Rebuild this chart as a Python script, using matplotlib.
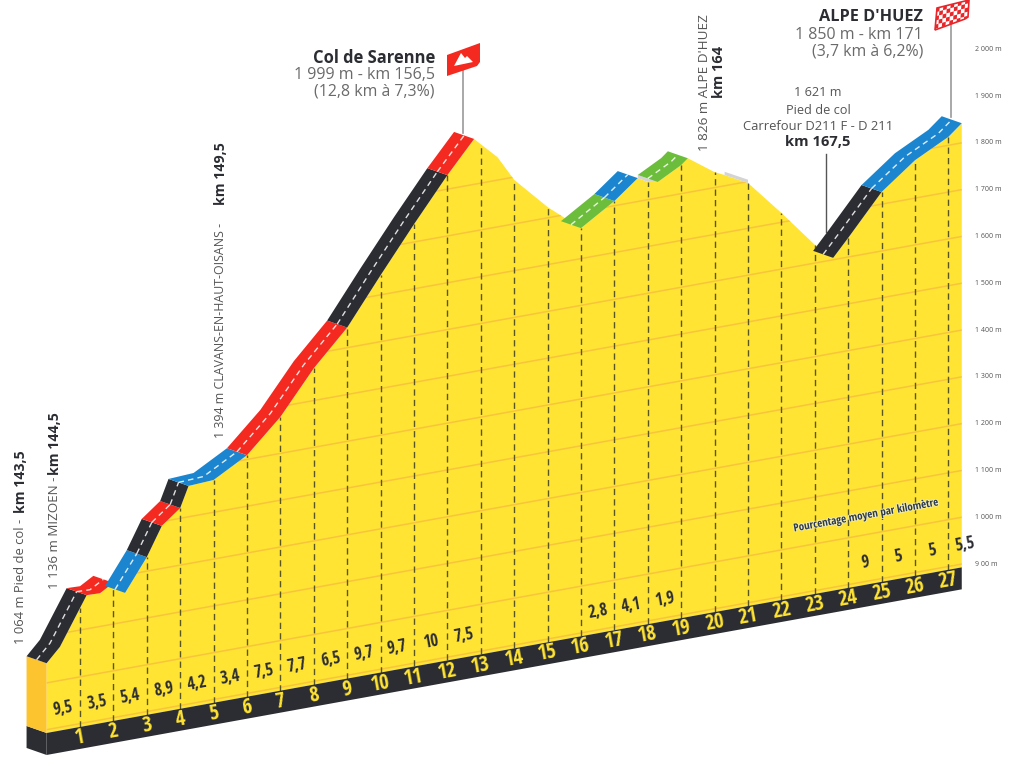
import numpy as np
import matplotlib
matplotlib.use("Agg")
import matplotlib.pyplot as plt
from matplotlib.patches import Polygon
from matplotlib.transforms import Affine2D
import matplotlib.patheffects as pe
import logging
logging.getLogger("matplotlib.font_manager").setLevel(logging.ERROR)

# profile: km, altitude of the front edge of the road
km = np.array([0, 0.4, 1, 1.2, 1.6, 2, 2.35, 3, 3.45, 4, 4.25, 5, 6, 7, 8, 9, 10, 11, 12, 12.8,
               13, 13.5, 14, 15, 15.6, 16, 17, 17.7, 18, 18.3, 19, 19.2, 20, 20.3, 21, 22, 23,
               23.55, 24, 25, 26, 27, 27.4])
alt = np.array([1042, 1072, 1147, 1172, 1171, 1188, 1162, 1230, 1291, 1322, 1366, 1369, 1409,
                1478, 1569, 1643, 1742, 1838, 1930, 1997,
                1983, 1949, 1894, 1823, 1788, 1765, 1810, 1850, 1838, 1834, 1861, 1873, 1833,
                1823, 1797, 1720, 1639, 1604, 1641, 1726, 1781, 1818, 1842])

# road sections: start km, end km, colour name
seg_start = [0, 1.2, 2.35, 3, 3.45, 4, 4.25, 6, 9, 12, 16, 17, 18.3, 23.55, 25]
seg_end = [1.2, 2, 3, 3.45, 4, 4.25, 6, 9, 12, 12.8, 17, 17.7, 19.2, 25, 27.4]
seg_col = ["black", "red", "blue", "black", "red", "black", "blue", "red", "black", "red",
           "green", "blue", "green", "black", "blue"]
flat_start = [15.6, 17.7, 20.3]
flat_end = [16, 18.3, 21]

km_ticks = list(range(1, 28))
pct_km = [1, 2, 3, 4, 5, 6, 7, 8, 9, 10, 11, 12, 13, 17, 18, 19, 25, 26, 27, 28]
pct_txt = ["9,5", "3,5", "5,4", "8,9", "4,2", "3,4", "7,5", "7,7", "6,5", "9,7", "9,7", "10", "7,5",
           "2,8", "4,1", "1,9", "9", "5", "5", "5,5"]
alt_ticks = [2000, 1900, 1800, 1700, 1600, 1500, 1400, 1300, 1200, 1100, 1000, 900]
alt_labels = ["2 000 m", "1 900 m", "1 800 m", "1 700 m", "1 600 m", "1 500 m", "1 400 m",
              "1 300 m", "1 200 m", "1 100 m", "1 000 m", "9 00 m"]

YELLOW = "#ffe433"
ROAD = {"black": "#2b2d33", "red": "#f4291f", "blue": "#1b86cf", "green": "#6cbd3c"}
GRID = "#f8c43c"
GROUND = "#2b2d33"
SIDE = "#fcc42f"
GREY = "#d4d4d4"
TXT = "#6a6a6a"
DARK = "#2b2d33"
FONT = "Open Sans"
NARROW = ["Open Sans Condensed", "Fira Sans Condensed", "Barlow Condensed", "Open Sans"]

GROUND_TOP = 893
GROUND_BOT = 846
DEPTH_KM, DEPTH_ALT = -0.6, 22.7  # oblique depth of the road
ANGLE = 10.3

fig = plt.figure(figsize=(10.24, 7.68), dpi=100)
ax = fig.add_axes([0, 0, 1, 1])
ax.set_xlim(0, 1024)
ax.set_ylim(768, 0)
ax.axis("off")

# km/altitude to picture, the ground rises to the right
proj = Affine2D.from_values(33.4, -6.045, 0, -0.468, 46.6, 1150.9) + ax.transData

# yellow body
end = km[-1]
body_x = np.concatenate([[0], km, [end]])
body_y = np.concatenate([[GROUND_TOP], alt, [GROUND_TOP]])
body = Polygon(np.column_stack([body_x, body_y]), closed=True, fc=YELLOW, ec="none", transform=proj, zorder=2)
ax.add_patch(body)

# sloping altitude lines, clipped to the body
for a in alt_ticks:
    ln, = ax.plot([0, end], [a, a], color=GRID, lw=1.1, transform=proj, zorder=3)
    ln.set_clip_path(body)

# km dashes
for k in km_ticks:
    ax.plot([k, k], [GROUND_TOP, np.interp(k, km, alt)], color="#5a5622", lw=1.0,
            dashes=(4.5, 3), transform=proj, zorder=4)

# ground band and left side
ax.add_patch(Polygon([(0, GROUND_TOP), (end, GROUND_TOP), (end, GROUND_BOT), (0, GROUND_BOT)],
                     closed=True, fc=GROUND, ec="none", transform=proj, zorder=5))
ax.add_patch(Polygon([(0, GROUND_TOP), (0, GROUND_BOT), (DEPTH_KM, GROUND_BOT + DEPTH_ALT), (DEPTH_KM, GROUND_TOP + DEPTH_ALT)],
                     closed=True, fc=GROUND, ec="none", transform=proj, zorder=5))
ax.add_patch(Polygon([(0, alt[0]), (0, GROUND_TOP), (DEPTH_KM, GROUND_TOP + DEPTH_ALT), (DEPTH_KM, alt[0] + DEPTH_ALT)],
                     closed=True, fc=SIDE, ec="none", transform=proj, zorder=5))


def ribbon(a, b, color):
    m = (km >= a) & (km <= b)
    fx, fy = km[m], alt[m]
    bx, by = fx + DEPTH_KM, fy + DEPTH_ALT
    pts = np.column_stack([np.concatenate([fx, bx[::-1]]), np.concatenate([fy, by[::-1]])])
    ax.add_patch(Polygon(pts, closed=True, fc=color, ec="none", transform=proj, zorder=6))
    ax.plot(fx + DEPTH_KM * 0.5, fy + DEPTH_ALT * 0.5, color="white", lw=1.0, dashes=(4, 3),
            alpha=0.85, transform=proj, zorder=7)


def sliver(a, b):
    # thin grey strip on a descending stretch
    m = (km >= a) & (km <= b)
    fx, fy = km[m], alt[m]
    pts = np.column_stack([np.concatenate([fx, fx[::-1]]), np.concatenate([fy, fy[::-1] + 7])])
    ax.add_patch(Polygon(pts, closed=True, fc=GREY, ec="none", transform=proj, zorder=3))


for a, b in zip(flat_start, flat_end):
    sliver(a, b)
for a, b, c in zip(seg_start, seg_end, seg_col):
    ribbon(a, b, ROAD[c])

# km numbers and percentages
for k in km_ticks:
    ax.text(k, (GROUND_TOP + GROUND_BOT) / 2, str(k), color=YELLOW, fontsize=15, fontweight="bold",
            family=NARROW, ha="center", va="center", rotation=ANGLE, rotation_mode="anchor",
            transform=proj, zorder=8)
for k, t in zip(pct_km, pct_txt):
    ax.text(k - 0.5, 940, t, color=DARK, fontsize=12, fontweight="bold", family=NARROW,
            ha="center", va="center", rotation=ANGLE, rotation_mode="anchor", transform=proj, zorder=8)

ax.text(866, 516, "Pourcentage moyen par kilomètre", color="#2c3a50", fontsize=7.9, fontweight="bold",
        family=NARROW, ha="center", va="center", rotation=ANGLE, rotation_mode="anchor", zorder=8,
        path_effects=[pe.withStroke(linewidth=1.2, foreground="#f4eeb0")])

# altitude scale on the right
for a, t in zip(alt_ticks, alt_labels):
    y = 564 - (a - 900) * 0.468
    ax.text(975, y, t, color="#555555", fontsize=5, family=FONT, ha="left", va="center")


def vert(x, parts):
    # rotated label made of pieces running upwards
    for piece, bold, bottom, size in parts:
        ax.text(x, bottom, piece, color=DARK if bold else "#555555", fontsize=size, family=FONT,
                fontweight="bold" if bold else "normal", rotation=90, ha="center", va="bottom", zorder=9)


vert(21, [("1 064 m Pied de col -", False, 644, 9.4), ("km 143,5", True, 513, 10.2)])
vert(55, [("1 136 m MIZOEN -", False, 589, 9.6), ("km 144,5", True, 475, 10.2)])
vert(221, [("1 394 m CLAVANS-EN-HAUT-OISANS -", False, 438, 8.9), ("km 149,5", True, 205, 10.2)])
vert(705, [("1 826 m ALPE D'HUEZ", False, 151, 9.7)])
vert(719, [("km 164", True, 98, 10.5)])

# climb labels
ax.text(435, 58, "Col de Sarenne", color=DARK, fontsize=11.9, fontweight="bold", family=FONT, ha="right", va="center")
ax.text(435, 75, "1 999 m - km 156,5", color=TXT, fontsize=11.5, family=FONT, ha="right", va="center")
ax.text(435, 91, "(12,8 km à 7,3%)", color=TXT, fontsize=11.4, family=FONT, ha="right", va="center")
ax.text(923, 17, "ALPE D'HUEZ", color=DARK, fontsize=11.7, fontweight="bold", family=FONT, ha="right", va="center")
ax.text(923, 35, "1 850 m - km 171", color=TXT, fontsize=11.5, family=FONT, ha="right", va="center")
ax.text(923, 52, "(3,7 km à 6,2%)", color=TXT, fontsize=11.4, family=FONT, ha="right", va="center")

ax.text(818, 93, "1 621 m", color="#555555", fontsize=9.1, family=FONT, ha="center", va="center")
ax.text(818, 110, "Pied de col", color="#555555", fontsize=9.2, family=FONT, ha="center", va="center")
ax.text(818, 126, "Carrefour D211 F - D 211", color="#555555", fontsize=9.4, family=FONT, ha="center", va="center")
ax.text(818, 142, "km 167,5", color=DARK, fontsize=10.6, fontweight="bold", family=FONT, ha="center", va="center")

# poles
ax.plot([463, 463], [70, 133], color="#999999", lw=1.2, zorder=1)
ax.plot([951, 951], [25, 117], color="#999999", lw=1.2, zorder=1)
ax.plot([826, 826], [154, 232], color="#555555", lw=1.0, zorder=1)

# flag of the col
ax.add_patch(Polygon([(447, 55), (480, 43), (480, 62), (477, 66), (447, 76)], closed=True, fc="#f4291f", ec="none", zorder=9))
ax.add_patch(Polygon([(454, 66), (461, 53), (465, 58), (467, 56), (473, 62)], closed=True, fc="white", ec="none", zorder=10))

# chequered finish flag
flag = Polygon([(937, 8), (969, 0), (968, 17), (965, 19), (935, 30)], closed=True, fc="white", ec="#e8262a", lw=1.2, zorder=9)
ax.add_patch(flag)
for i in range(9):
    for j in range(5):
        if (i + j) % 2:
            continue
        u0, u1 = i / 9, (i + 1) / 9
        v0, v1 = j / 5, (j + 1) / 5
        cell = [(936 + 33 * u + v * -1.5, 8 - 9 * u + 21 * v) for u, v in [(u0, v0), (u1, v0), (u1, v1), (u0, v1)]]
        p = Polygon(cell, closed=True, fc="#e8262a", ec="none", zorder=10)
        ax.add_patch(p)
        p.set_clip_path(flag)

fig.savefig("out.png", dpi=100)
